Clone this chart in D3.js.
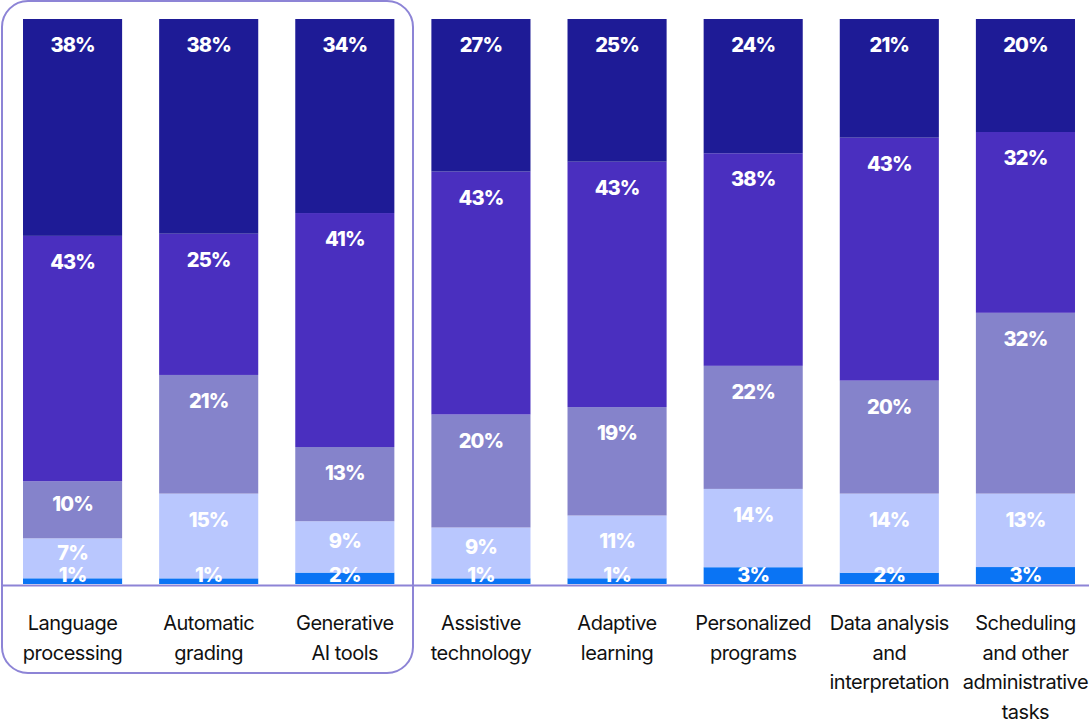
<!DOCTYPE html>
<html>
<head>
<meta charset="utf-8">
<script src="https://cdn.jsdelivr.net/npm/d3@7"></script>
<style>
  html, body { margin: 0; padding: 0; background: #fff; }
  svg { display: block; }
</style>
</head>
<body>
<svg id="chart" width="1089" height="721"></svg>
<script>
const categories = [
  ["Language", "processing"],
  ["Automatic", "grading"],
  ["Generative", "AI tools"],
  ["Assistive", "technology"],
  ["Adaptive", "learning"],
  ["Personalized", "programs"],
  ["Data analysis", "and", "interpretation"],
  ["Scheduling", "and other", "administrative", "tasks"]
];
// series from bottom to top
const seriesKeys = ["s1", "s2", "s3", "s4", "s5"];
const s1 = [1, 1, 2, 1, 1, 3, 2, 3];
const s2 = [7, 15, 9, 9, 11, 14, 14, 13];
const s3 = [10, 21, 13, 20, 19, 22, 20, 32];
const s4 = [43, 25, 41, 43, 43, 38, 43, 32];
const s5 = [38, 38, 34, 27, 25, 24, 21, 20];
const colors = ["#0a74f4", "#b9c7fe", "#8583cb", "#4a2fbf", "#1e1b96"];

const W = 1089, H = 721;
const svg = d3.select("#chart");

const rows = categories.map((c, i) => {
  const r = { idx: i, s1: s1[i], s2: s2[i], s3: s3[i], s4: s4[i], s5: s5[i] };
  r.total = s1[i] + s2[i] + s3[i] + s4[i] + s5[i];
  return r;
});

const x = d3.scaleBand()
  .domain(d3.range(categories.length))
  .range([4.5, 1093.5])
  .paddingInner(0.272)
  .paddingOuter(0.136);

const y = d3.scaleLinear().domain([0, 1]).range([584, 19]);

const normRows = rows.map(r => {
  const o = { idx: r.idx };
  seriesKeys.forEach(k => o[k] = r[k] / r.total);
  return o;
});
const stacked = d3.stack().keys(seriesKeys)(normRows);

// highlight box
svg.append("rect")
  .attr("x", 2).attr("y", 1)
  .attr("width", 411).attr("height", 672)
  .attr("rx", 26).attr("ry", 26)
  .attr("fill", "none")
  .attr("stroke", "#8d84d6")
  .attr("stroke-width", 2);

const layers = svg.append("g").selectAll("g")
  .data(stacked).join("g")
  .attr("fill", (d, i) => colors[i]);

layers.selectAll("rect")
  .data(d => d.map(p => ({ p, key: d.key })))
  .join("rect")
  .attr("x", d => x(d.p.data.idx))
  .attr("width", x.bandwidth())
  .attr("y", d => y(d.p[1]))
  .attr("height", d => y(d.p[0]) - y(d.p[1]));

// labels
const labelG = svg.append("g")
  .attr("font-family", "Inter, 'Noto Sans', sans-serif")
  .attr("font-weight", 800)
  .attr("font-size", 20)
  .attr("letter-spacing", -0.9)
  .attr("fill", "#fff")
  .attr("text-anchor", "middle");

stacked.forEach((layer, li) => {
  layer.forEach(p => {
    const i = p.data.idx;
    const top = y(p[1]), bottom = y(p[0]);
    const h = bottom - top;
    let cy;
    if (h < 20) cy = bottom - 9.5;
    else cy = Math.min(top + 26, (top + bottom) / 2 - 6);
    labelG.append("text")
      .attr("x", x(i) + x.bandwidth() / 2)
      .attr("y", cy)
      .attr("dy", "0.36em")
      .text(rows[i][layer.key] + "%");
  });
});

// baseline
svg.append("line")
  .attr("x1", 3).attr("x2", W)
  .attr("y1", 585.5).attr("y2", 585.5)
  .attr("stroke", "#8d84d6")
  .attr("stroke-width", 2);

// category labels
const catG = svg.append("g")
  .attr("font-family", "Inter, 'Noto Sans', sans-serif")
  .attr("font-size", 20)
  .attr("fill", "#111")
  .attr("text-anchor", "middle");

categories.forEach((lines, i) => {
  const t = catG.append("text")
    .attr("x", x(i) + x.bandwidth() / 2)
    .attr("y", 623)
    .attr("letter-spacing", -0.5);
  lines.forEach((ln, j) => {
    t.append("tspan")
      .attr("x", x(i) + x.bandwidth() / 2)
      .attr("y", 623 + j * 29.5)
      .attr("dy", "0.35em")
      .text(ln);
  });
});
</script>
</body>
</html>
